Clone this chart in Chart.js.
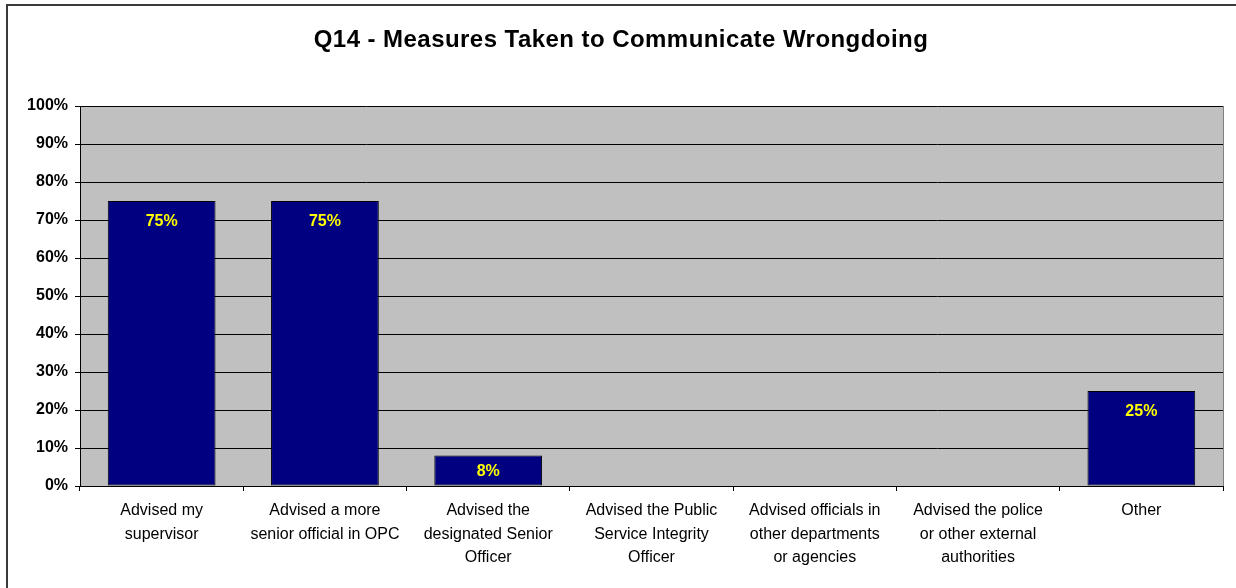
<!DOCTYPE html>
<html>
<head>
<meta charset="utf-8">
<script src="https://cdn.jsdelivr.net/npm/chart.js@4/dist/chart.umd.min.js"></script>
<style>
  html, body { margin: 0; padding: 0; background: #fff; }
  #wrap { position: relative; width: 1236px; height: 588px; overflow: hidden; }
  #frame { position: absolute; left: 6px; top: 4px; width: 1300px; height: 700px;
           border-left: 2px solid #3a3a3a; border-top: 2px solid #3a3a3a; box-sizing: border-box; }
  #c { position: absolute; left: 0; top: 0; }
</style>
</head>
<body>
<div id="wrap">
  <div id="frame"></div>
  <canvas id="c" width="1236" height="588"></canvas>
</div>
<script>
// Survey question and answer categories (multi-line labels)
const chartTitle = 'Q14 - Measures Taken to Communicate Wrongdoing';
const categories = [
  ['Advised my', 'supervisor'],
  ['Advised a more', 'senior official in OPC'],
  ['Advised the', 'designated Senior', 'Officer'],
  ['Advised the Public', 'Service Integrity', 'Officer'],
  ['Advised officials in', 'other departments', 'or agencies'],
  ['Advised the police', 'or other external', 'authorities'],
  ['Other']
];
// Share of respondents, percent
const percentages = [75, 75, 8, 0, 0, 0, 25];
// Y axis: 0% .. 100% in steps of 10
const yTickValues = [0, 10, 20, 30, 40, 50, 60, 70, 80, 90, 100];

const FONT = '"Liberation Sans", Arial, sans-serif';

// Grey plot background with a thin right-hand frame line
const plotBackground = {
  id: 'plotBackground',
  beforeDraw(chart) {
    const { ctx, chartArea: a } = chart;
    ctx.save();
    ctx.fillStyle = '#C0C0C0';
    ctx.fillRect(a.left, a.top, a.right - a.left, a.bottom - a.top);
    ctx.strokeStyle = '#808080';
    ctx.lineWidth = 1;
    ctx.beginPath();
    ctx.moveTo(a.right + 0.5, a.top);
    ctx.lineTo(a.right + 0.5, a.bottom);
    ctx.stroke();
    ctx.restore();
  }
};

// Chart heading, centred over the framed area
const heading = {
  id: 'heading',
  afterDraw(chart) {
    const { ctx } = chart;
    ctx.save();
    ctx.font = 'bold 24px ' + FONT;
    if ('letterSpacing' in ctx) ctx.letterSpacing = '0.45px';
    ctx.fillStyle = '#000';
    ctx.textAlign = 'center';
    ctx.textBaseline = 'middle';
    ctx.fillText(chartTitle, 621, 40);
    ctx.restore();
  }
};

// Yellow value labels just inside the top of each non-zero bar
const valueLabels = {
  id: 'valueLabels',
  afterDatasetsDraw(chart) {
    const { ctx } = chart;
    const meta = chart.getDatasetMeta(0);
    ctx.save();
    ctx.font = 'bold 16px ' + FONT;
    ctx.fillStyle = '#FFFF00';
    ctx.textAlign = 'center';
    ctx.textBaseline = 'middle';
    meta.data.forEach((bar, i) => {
      const v = percentages[i];
      if (!v) return;
      const y = Math.min(bar.y + 21, (bar.y + bar.base) / 2 + 1);
      ctx.fillText(v + '%', bar.x, y);
    });
    ctx.restore();
  }
};

new Chart(document.getElementById('c'), {
  type: 'bar',
  data: {
    labels: categories,
    datasets: [{
      data: percentages,
      backgroundColor: '#000080',
      borderColor: '#000000',
      borderWidth: 1,
      borderSkipped: false,
      categoryPercentage: 1.0,
      barPercentage: 0.66
    }]
  },
  options: {
    responsive: false,
    animation: false,
    devicePixelRatio: 1,
    layout: { padding: { left: 0, right: 13, top: 106, bottom: 0 } },
    plugins: {
      legend: { display: false },
      tooltip: { enabled: false },
      title: { display: false }
    },
    scales: {
      x: {
        offset: true,
        grid: {
          offset: true,
          drawOnChartArea: false,
          drawTicks: true,
          tickLength: 5,
          color: '#000',
          lineWidth: 1
        },
        border: { display: true, color: '#000', width: 1 },
        ticks: {
          color: '#000',
          font: { family: FONT, size: 16, lineHeight: 1.47 },
          padding: 8,
          maxRotation: 0,
          minRotation: 0,
          autoSkip: false
        },
        afterFit(scale) { scale.height = 102; }
      },
      y: {
        min: 0,
        max: 100,
        afterBuildTicks(scale) { scale.ticks = yTickValues.map(v => ({ value: v })); },
        grid: {
          color: '#000',
          lineWidth: 1,
          drawTicks: true,
          tickLength: 5
        },
        border: { display: true, color: '#000', width: 1 },
        ticks: {
          color: '#000',
          font: { family: FONT, size: 16, weight: 'bold' },
          padding: 7,
          callback: v => v + '%'
        },
        afterFit(scale) { scale.width = 80; }
      }
    }
  },
  plugins: [plotBackground, valueLabels, heading]
});
</script>
</body>
</html>
